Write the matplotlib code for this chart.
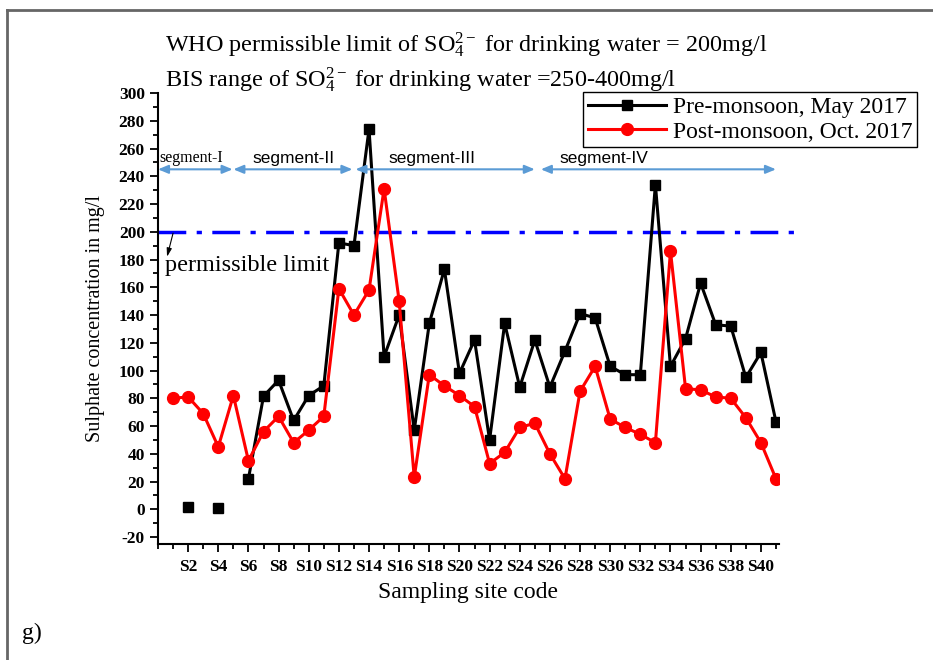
import matplotlib
matplotlib.use('Agg')
import matplotlib.pyplot as plt
import numpy as np
from matplotlib.lines import Line2D
from matplotlib.ticker import MultipleLocator, FixedLocator

nan = np.nan
sites = list(range(1, 42))
pre_monsoon = [nan, 2, nan, 1, nan, 22, 81.5, 93, 64, 82, 89, 192, 190, 274, 110, 140, 57,
               134, 173, 98, 122, 50, 134, 88, 122, 88, 114, 141, 138, 103, 97, 97, 234,
               103, 123, 163, 133, 132, 95, 113, 63]
post_monsoon = [80, 81, 69, 45, 82, 35, 56, 67, 48, 57, 67, 159, 140, 158, 231, 150, 23,
                97, 89, 82, 74, 33, 41, 59, 62, 40, 22, 85, 103, 65, 59, 54, 48, 186, 87,
                86, 81, 80, 66, 48, 22]
xtick_labels = ['S%d' % i for i in range(2, 41, 2)]
who_limit = 200
segment_names = ['segment-I', 'segment-II', 'segment-III', 'segment-IV']
segment_bounds = [(0, 4.95), (5.0, 12.9), (13.1, 25.0), (25.4, 41.0)]
segment_label_x = [2.2, 9.0, 18.2, 29.6]
segment_level = 245

plt.rcParams['font.family'] = ['Liberation Serif', 'DejaVu Serif']
plt.rcParams['mathtext.fontset'] = 'custom'
plt.rcParams['mathtext.rm'] = 'Liberation Serif'
plt.rcParams['mathtext.it'] = 'Liberation Serif:italic'
plt.rcParams['axes.unicode_minus'] = False

fig = plt.figure(figsize=(9.33, 6.6), dpi=100)
ax = fig.add_axes([158/933, 1-544/660, (779-158)/933, (544-93)/660])

ax.plot(sites, pre_monsoon, color='black', marker='s', markersize=7.5, lw=2.2,
        label='Pre-monsoon, May 2017', zorder=3)
ax.plot(sites, post_monsoon, color='#ff0000', marker='o', markersize=8.5, lw=2.2,
        label='Post-monsoon, Oct. 2017', zorder=4)

ax.set_xlim(0, 41.2)
ax.set_ylim(-25, 300)
ax.spines['top'].set_visible(False)
ax.spines['right'].set_visible(False)
for s in ['left', 'bottom']:
    ax.spines[s].set_linewidth(1.5)

ax.yaxis.set_major_locator(FixedLocator(list(range(-20, 301, 20))))
ax.yaxis.set_minor_locator(MultipleLocator(10))
ax.xaxis.set_major_locator(FixedLocator(list(range(2, 41, 2))))
ax.xaxis.set_minor_locator(FixedLocator(list(range(0, 42))))
ax.set_xticklabels(xtick_labels)
ax.tick_params(which='major', length=6, width=1.3, direction='out', labelsize=12.5)
ax.tick_params(axis='x', which='major', labelsize=12.5, pad=5)
ax.tick_params(which='minor', length=3.5, width=1.3, direction='out')
for lab in ax.get_xticklabels() + ax.get_yticklabels():
    lab.set_fontweight('bold')

ax.set_ylabel('Sulphate concentration in mg/l', fontsize=14.5, labelpad=10)
ax.set_xlabel('Sampling site code', fontsize=17, labelpad=5)

# WHO line
ax.plot([0, 42.7], [who_limit, who_limit], color='#0000ff', lw=2.5,
        ls=(0, (8, 3, 1.5, 3)), clip_on=False, zorder=2)
ax.annotate('', xy=(0.6, 182), xytext=(1.0, who_limit - 1),
            arrowprops=dict(arrowstyle='-|>,head_length=0.5,head_width=0.15',
                            color='black', lw=0.8, shrinkA=0, shrinkB=0))
ax.text(0.45, 175.5, 'permissible limit', fontsize=17.5, va='center', ha='left')

# segments
seg_col = '#5b9bd5'
for (a, b) in segment_bounds:
    ax.annotate('', xy=(a, segment_level), xytext=(b, segment_level),
                arrowprops=dict(arrowstyle='<|-|>,head_length=0.6,head_width=0.25',
                                color=seg_col, lw=1.5, shrinkA=0, shrinkB=0))
ax.text(segment_label_x[0], 253, segment_names[0], fontsize=11.5, ha='center', va='center',
        family='Liberation Serif')
for i in range(1, 4):
    ax.text(segment_label_x[i], 253, segment_names[i], fontsize=12.5, ha='center',
            va='center', family='Liberation Sans')

leg = fig.legend(loc='upper right', bbox_to_anchor=(917/933, 1-92/660), fontsize=17,
                 frameon=True, fancybox=False, edgecolor='black', framealpha=1,
                 borderaxespad=0, handlelength=3.3, borderpad=0.2, labelspacing=0.12,
                 handletextpad=0.3)
leg.get_frame().set_linewidth(1.0)

fig.text(165/933, 1-45/660, r'WHO permissible limit of SO$_4^{2-}$ for drinking water = 200mg/l',
         fontsize=17.4, va='center', ha='left')
fig.text(165/933, 1-80/660, r'BIS range of SO$_4^{2-}$ for drinking water =250-400mg/l',
         fontsize=17.4, va='center', ha='left')
fig.text(22/933, 1-633/660, 'g)', fontsize=17, va='center', ha='left')

# outer frame
fig.add_artist(Line2D([7/933, 7/933], [0, 1-10/660], transform=fig.transFigure,
                      color='#666666', lw=2))
fig.add_artist(Line2D([7/933, 1], [1-10/660, 1-10/660], transform=fig.transFigure,
                      color='#666666', lw=2))

fig.savefig('out.png', dpi=100)
